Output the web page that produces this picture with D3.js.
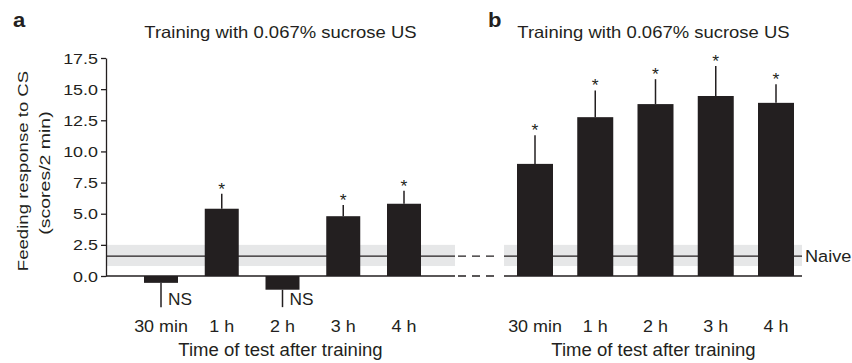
<!DOCTYPE html>
<html>
<head>
<meta charset="utf-8">
<script src="https://cdn.jsdelivr.net/npm/d3@7"></script>
<style>
  body { margin: 0; background: #fff; }
  text { font-family: "Liberation Sans", Arial, Helvetica, sans-serif; fill: #231f20; }
</style>
</head>
<body>
<div id="chart"></div>
<script>
// data
const times = ['30 min', '1 h', '2 h', '3 h', '4 h'];

const meansA = [-0.55, 5.4, -1.1, 4.8, 5.8];
const errA   = [1.95, 1.2, 1.4, 0.9, 1.05];
const sigA   = ['NS', '*', 'NS', '*', '*'];

const meansB = [9.0, 12.75, 13.8, 14.45, 13.9];
const errB   = [2.3, 2.15, 2.0, 2.4, 1.5];
const sigB   = ['*', '*', '*', '*', '*'];

const naiveMean = 1.6, naiveLow = 0.8, naiveHigh = 2.5;
const yTicks = [0, 2.5, 5, 7.5, 10, 12.5, 15, 17.5];

const titleText = 'Training with 0.067% sucrose US';
const xTitle = 'Time of test after training';
const yTitle = ['Feeding response to CS', '(scores/2 min)'];

const dark = '#231f20', bandGrey = '#e6e7e8';
const width = 852, height = 363;

const svg = d3.select('#chart')
  .append('svg')
    .attr('width', width)
    .attr('height', height);

const y = d3.scaleLinear().domain([0, 17.5]).range([276, 58]);

// text with a slight horizontal stretch, like the original artwork
function label(g, str, x, yy, opt) {
  opt = opt || {};
  const sx = opt.sx || 1.12, rot = opt.rotate ? ' rotate(' + opt.rotate + ')' : '';
  return g.append('text')
    .attr('transform', `translate(${x},${yy})${rot} scale(${sx},1)`)
    .attr('text-anchor', opt.anchor || 'middle')
    .style('font-size', (opt.size || 16) + 'px')
    .style('font-weight', opt.bold ? 'bold' : null)
    .text(str);
}

const panels = [
  { id: 'a', means: meansA, errs: errA, sig: sigA, pts: [161, 404], band: [106, 455], barW: 34, letterX: 13 },
  { id: 'b', means: meansB, errs: errB, sig: sigB, pts: [535, 776], band: [504, 802], barW: 36, letterX: 488 }
];

panels.forEach((p) => {
  const g = svg.append('g');
  const x = d3.scalePoint().domain(times).range(p.pts);
  const rows = times.map((t, i) => ({ t: t, v: p.means[i], e: p.errs[i], s: p.sig[i] }));

  // naive range band + mean line
  g.append('rect')
    .attr('x', p.band[0]).attr('width', p.band[1] - p.band[0])
    .attr('y', y(naiveHigh)).attr('height', y(naiveLow) - y(naiveHigh))
    .attr('fill', bandGrey);
  g.append('line')
    .attr('x1', p.band[0]).attr('x2', p.band[1])
    .attr('y1', y(naiveMean)).attr('y2', y(naiveMean))
    .attr('stroke', dark).attr('stroke-width', 1.3);

  // bars
  g.selectAll('rect.bar')
    .data(rows)
    .enter()
      .append('rect')
      .classed('bar', true)
      .attr('x', (d) => x(d.t) - p.barW / 2)
      .attr('width', p.barW)
      .attr('y', (d) => y(Math.max(0, d.v)))
      .attr('height', (d) => Math.abs(y(d.v) - y(0)))
      .attr('fill', dark);

  // error bars (one-sided, away from zero)
  const errEnd = (d) => d.v >= 0 ? d.v + d.e : d.v - d.e;
  g.selectAll('line.err')
    .data(rows)
    .enter()
      .append('line')
      .classed('err', true)
      .attr('x1', (d) => x(d.t)).attr('x2', (d) => x(d.t))
      .attr('y1', (d) => y(d.v)).attr('y2', (d) => y(errEnd(d)))
      .attr('stroke', dark).attr('stroke-width', 1.5);

  // zero line
  g.append('line')
    .attr('x1', p.band[0]).attr('x2', p.band[1])
    .attr('y1', y(0)).attr('y2', y(0))
    .attr('stroke', dark).attr('stroke-width', 1.5);

  // significance marks
  rows.forEach((d) => {
    if (d.s === '*') {
      label(g, '*', x(d.t), y(errEnd(d)) + 1, { size: 16, sx: 1.1 });
    } else {
      label(g, d.s, x(d.t) + 7, y(errEnd(d)) - 2, { size: 16, sx: 1.08, anchor: 'start' });
    }
  });

  // category labels
  times.forEach((t) => label(g, t, x(t), 332, { size: 16, sx: 1.12 }));

  const mid = (p.pts[0] + p.pts[1]) / 2 - 2;
  label(g, xTitle, mid, 356, { size: 17.5, sx: 1.06 });
  label(g, titleText, mid, 37.5, { size: 16.5, sx: 1.12 });
  label(g, p.id, p.letterX, 27, { size: 21, sx: 1.05, bold: true, anchor: 'start' });
});

// y axis (panel a only)
const yAxis = d3.axisLeft(y)
  .tickValues(yTicks)
  .tickFormat(d3.format('.1f'))
  .tickSize(5)
  .tickSizeOuter(0);

const ax = svg.append('g')
  .attr('transform', 'translate(106,0)')
  .call(yAxis);

ax.select('.domain').attr('stroke', dark).attr('stroke-width', 1.3);
ax.selectAll('.tick line').attr('stroke', dark).attr('stroke-width', 1.3);
ax.selectAll('.tick text')
  .attr('x', null).attr('dy', null)
  .attr('transform', 'translate(-8,5) scale(1.28,1)')
  .attr('font-family', null).attr('font-size', null)
  .style('font-size', '14px')
  .attr('fill', dark);

label(svg, yTitle[0], 27.5, 171, { size: 15, sx: 1.24, rotate: -90 });
label(svg, yTitle[1], 50, 173, { size: 15, sx: 1.3, rotate: -90 });

// broken-axis dashes between the panels
[naiveMean, 0].forEach((v) => {
  svg.append('line')
    .attr('x1', 458).attr('x2', 498)
    .attr('y1', y(v)).attr('y2', y(v))
    .attr('stroke', dark).attr('stroke-width', v === 0 ? 1.5 : 1.3)
    .attr('stroke-dasharray', '8,6');
});

// Naive label at the end of the right panel's mean line
label(svg, 'Naive', 805, y(naiveMean) + 6, { size: 16.5, sx: 1.1, anchor: 'start' });
</script>
</body>
</html>
